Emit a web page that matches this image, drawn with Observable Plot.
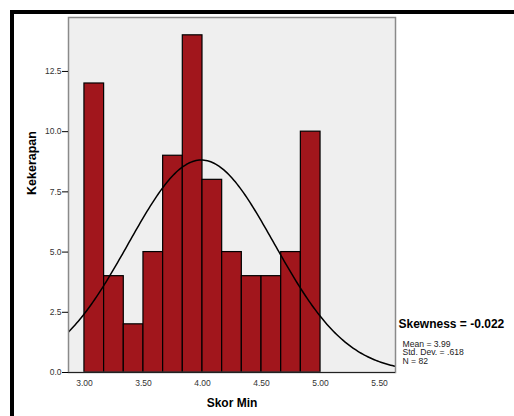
<!DOCTYPE html>
<html>
<head>
<meta charset="utf-8">
<script src="https://cdn.jsdelivr.net/npm/d3@7"></script>
<script src="https://cdn.jsdelivr.net/npm/@observablehq/plot@0.6"></script>
<style>
  html, body { margin: 0; padding: 0; background: #fff; }
  #wrap { position: relative; width: 514px; height: 416px; overflow: hidden; }
  #border { position: absolute; left: 10px; top: 10px; width: 520px; height: 420px;
            border-top: 4px solid #000; border-left: 4px solid #000; pointer-events: none; }
</style>
</head>
<body>
<div id="wrap"><div id="border"></div></div>
<script>
// Histogram bins (Skor Min) and frequencies (Kekerapan)
const binEdges = [3.00, 3.1667, 3.3333, 3.50, 3.6667, 3.8333, 4.00, 4.1667, 4.3333, 4.50, 4.6667, 4.8333, 5.00];
const counts = [12, 4, 2, 5, 9, 14, 8, 5, 4, 4, 5, 10];
const xTicks = [3.0, 3.5, 4.0, 4.5, 5.0, 5.5];
const yTicks = [0, 2.5, 5.0, 7.5, 10.0, 12.5];
const statMean = 3.99;
const statSD = 0.618;
const statN = 82;
const skewnessLabel = "Skewness = -0.022";
const statLines = ["Mean = 3.99", "Std. Dev. = .618", "N = 82"];
const xLabel = "Skor Min";
const yLabel = "Kekerapan";

const xDomain = [2.865, 5.635];
const yDomain = [0, 14.74];

const bars = counts.map((c, i) => ({x1: binEdges[i], x2: binEdges[i + 1], count: c}));
const binWidth = (binEdges[binEdges.length - 1] - binEdges[0]) / counts.length;

// Fitted normal curve from the reported mean / sd / N
const curve = d3.range(0, 201).map(i => {
  const x = xDomain[0] + (xDomain[1] - xDomain[0]) * i / 200;
  const z = (x - statMean) / statSD;
  return {x, y: statN * binWidth * Math.exp(-0.5 * z * z) / (statSD * Math.sqrt(2 * Math.PI))};
});

const font = "'Liberation Sans', Arial, sans-serif";

const chart = Plot.plot({
  width: 514,
  height: 416,
  marginLeft: 68,
  marginRight: 119,
  marginTop: 17,
  marginBottom: 44,
  style: {fontFamily: font, background: "transparent", overflow: "visible"},
  x: {domain: xDomain},
  y: {domain: yDomain},
  marks: [
    Plot.frame({fill: "#efefef", stroke: null}),
    Plot.rect(bars, {x1: "x1", x2: "x2", y1: 0, y2: "count", fill: "#a1161c", stroke: "#000", strokeWidth: 1.2}),
    Plot.line(curve, {x: "x", y: "y", stroke: "#000", strokeWidth: 1.5, clip: true}),
    Plot.frame({stroke: "#8a8a8a", strokeWidth: 1.5}),
    Plot.ruleY([0], {stroke: "#222", strokeWidth: 1.2}),
    Plot.axisY({ticks: yTicks, tickFormat: d => d.toFixed(1), tickSize: 6, tickPadding: 1,
                fontSize: 8.5, label: null, color: "#333", stroke: "#000"}),
    Plot.axisX({ticks: xTicks, tickFormat: d => d.toFixed(2), tickSize: 0, tickPadding: 7,
                fontSize: 8.5, label: null, color: "#333"}),
    Plot.text([yLabel], {frameAnchor: "left", dx: -36.5, rotate: -90, text: d => d,
                fontWeight: "bold", fontSize: 12.5, fill: "#000", lineAnchor: "middle"}),
    Plot.text([xLabel], {frameAnchor: "bottom", dy: 30.7, text: d => d,
                fontWeight: "bold", fontSize: 12, fill: "#000", lineAnchor: "middle"}),
    Plot.text([skewnessLabel], {frameAnchor: "bottom-right", dx: 3, dy: -48.7, text: d => d,
                textAnchor: "start", lineAnchor: "middle", fontWeight: "bold", fontSize: 12, fill: "#000"}),
    ...statLines.map((s, i) => Plot.text([s], {frameAnchor: "bottom-right", dx: 7, dy: -28.7 + i * 8.8,
                text: d => d, textAnchor: "start", lineAnchor: "middle", fontSize: 8.6, fill: "#222"}))
  ]
});

document.getElementById("wrap").insertBefore(chart, document.getElementById("border"));
</script>
</body>
</html>
